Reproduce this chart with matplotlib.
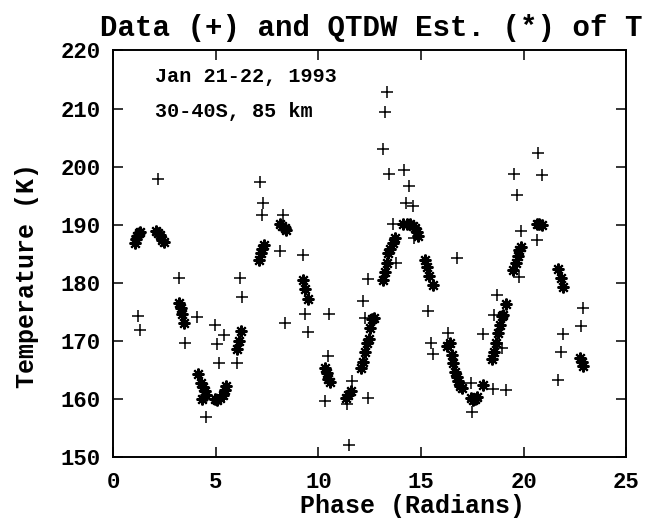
import numpy as np
import matplotlib
matplotlib.use("Agg")
import matplotlib.pyplot as plt

# Observed temperatures (+)
data_phase = [1.20, 1.31, 2.21, 3.21, 3.51, 4.11, 4.53, 4.97, 5.05, 5.18,
              5.40, 6.02, 6.18, 6.28, 7.16, 7.32, 7.24, 8.15, 8.29, 8.37,
              9.23, 9.35, 9.51, 10.53, 10.48, 10.32, 11.62, 11.37, 11.49, 12.43,
              12.19, 12.40, 12.27, 13.32, 13.24, 13.13, 13.44, 14.18, 14.43, 14.26,
              14.59, 13.65, 13.77, 14.67, 15.35, 15.48, 15.56, 16.31, 16.73, 17.41,
              17.49, 18.48, 19.14, 18.03, 18.68, 18.53, 18.93, 19.75, 19.85, 19.65,
              19.54, 20.71, 20.87, 20.63, 22.87, 22.77, 21.93, 21.81, 21.68]
data_temp = [174.2, 171.9, 197.9, 180.8, 169.7, 174.1, 156.9, 172.7, 169.5, 166.1,
             171.0, 166.1, 180.8, 177.6, 197.4, 193.8, 191.6, 185.5, 191.6, 173.1,
             184.7, 174.6, 171.5, 174.6, 167.4, 159.7, 163.0, 159.1, 152.0, 160.1,
             176.8, 180.7, 173.9, 212.9, 209.4, 203.0, 198.7, 199.5, 196.7, 193.8,
             193.2, 190.2, 183.4, 187.7, 175.1, 169.6, 167.7, 171.4, 184.2, 162.8,
             157.8, 161.7, 161.6, 171.1, 177.9, 174.4, 168.7, 181.0, 188.9, 195.1,
             198.7, 202.3, 198.6, 187.3, 175.6, 172.5, 171.1, 168.1, 163.2]

# QTDW estimates (*)
est_phase = [1.07, 1.13, 1.19, 1.26, 1.31, 2.09, 2.20, 2.31, 2.40, 2.48,
             3.21, 3.29, 3.34, 3.47, 4.12, 4.27, 4.37, 4.46, 4.53, 4.32,
             4.97, 5.08, 5.21, 5.34, 5.45, 5.50, 6.02, 6.12, 6.25,
             7.12, 7.21, 7.27, 7.35, 8.15, 8.25, 8.35, 8.43,
             9.23, 9.35, 9.48, 10.32, 10.40, 10.48, 10.56, 11.34, 11.46, 11.57,
             12.06, 12.16, 12.25, 12.35, 12.45, 12.51, 12.59, 12.71,
             13.16, 13.24, 13.32, 13.40, 13.51, 13.61, 13.73,
             14.13, 14.30, 14.46, 14.59, 14.71, 14.79, 14.87,
             15.19, 15.27, 15.40, 15.59,
             16.24, 16.41, 16.49, 16.57, 16.65, 16.73, 16.81, 16.89, 16.98,
             17.41, 17.54, 17.62, 17.70, 18.03,
             18.44, 18.53, 18.65, 18.76, 18.85, 18.93, 19.00, 19.13,
             19.49, 19.62, 19.70, 19.78, 19.86, 20.63, 20.76, 20.87,
             21.68, 21.80, 21.93, 22.74, 22.82, 22.90]
est_temp = [186.9, 187.5, 188.0, 188.5, 188.8, 188.9, 188.6, 188.2, 187.4, 187.1,
            176.6, 175.6, 174.7, 173.1, 164.3, 162.7, 162.0, 161.3, 160.7, 159.9,
            159.9, 159.8, 160.1, 160.7, 161.5, 162.2, 168.6, 170.0, 171.7,
            183.9, 185.2, 185.9, 186.5, 190.2, 189.8, 189.4, 189.1,
            180.5, 178.9, 177.2, 165.3, 164.4, 163.5, 162.9, 160.1, 160.7, 161.3,
            165.3, 166.4, 168.1, 169.6, 170.4, 172.2, 173.7, 173.9,
            180.5, 181.9, 183.4, 185.1, 185.9, 186.9, 187.7,
            190.2, 190.2, 190.1, 189.8, 189.4, 188.8, 188.1,
            183.9, 182.8, 181.2, 179.6,
            169.1, 169.6, 167.6, 166.1, 164.7, 163.8, 163.0, 162.2, 161.8,
            160.1, 159.8, 159.9, 160.4, 162.4,
            166.8, 168.1, 169.6, 171.3, 172.7, 174.2, 174.5, 176.3,
            182.2, 183.4, 184.6, 185.6, 186.2, 190.2, 190.1, 189.9,
            182.4, 180.8, 179.3, 167.0, 166.4, 165.7]

xticks = [0, 5, 10, 15, 20, 25]
yticks = [150, 160, 170, 180, 190, 200, 210, 220]

# monospaced serif, close to the old plotting package look
plt.rcParams['font.family'] = ['Liberation Mono', 'DejaVu Sans Mono']
plt.rcParams['font.weight'] = 'bold'

fig = plt.figure(figsize=(6.45, 5.19), dpi=100)
ax = fig.add_axes([0.1752, 0.1195, 0.7961, 0.7832])

ax.plot(data_phase, data_temp, linestyle='none', marker='+', ms=8, mew=1.1, color='black')
ax.plot(est_phase, est_temp, linestyle='none', marker=(8, 2, 0), ms=8.5, mew=1.5, color='black')

ax.set_xlim(0, 25)
ax.set_ylim(150, 220)
ax.set_xticks(xticks)
ax.set_yticks(yticks)
ax.tick_params(direction='in', length=7, width=1.1, top=True, right=True,
               labelsize=16, pad=9)
ax.tick_params(axis='x', pad=11)
for s in ax.spines.values():
    s.set_linewidth(1.4)

# axis titles sit a bit off-centre in the original
fig.text(413 / 645, 1 - 506 / 519, 'Phase (Radians)', fontsize=18,
         ha='center', va='center')
fig.text(27 / 645, 1 - 276 / 519, 'Temperature (K)', fontsize=18,
         rotation=90, ha='center', va='center')
fig.text(0.576, 0.946, 'Data (+) and QTDW Est. (*) of T', fontsize=21,
         ha='center', va='center')

ax.text(0.082, 0.935, 'Jan 21-22, 1993', transform=ax.transAxes, fontsize=14.5, va='center')
ax.text(0.082, 0.849, '30-40S, 85 km', transform=ax.transAxes, fontsize=14.5, va='center')

plt.savefig('out.png', dpi=100)
plt.close()
